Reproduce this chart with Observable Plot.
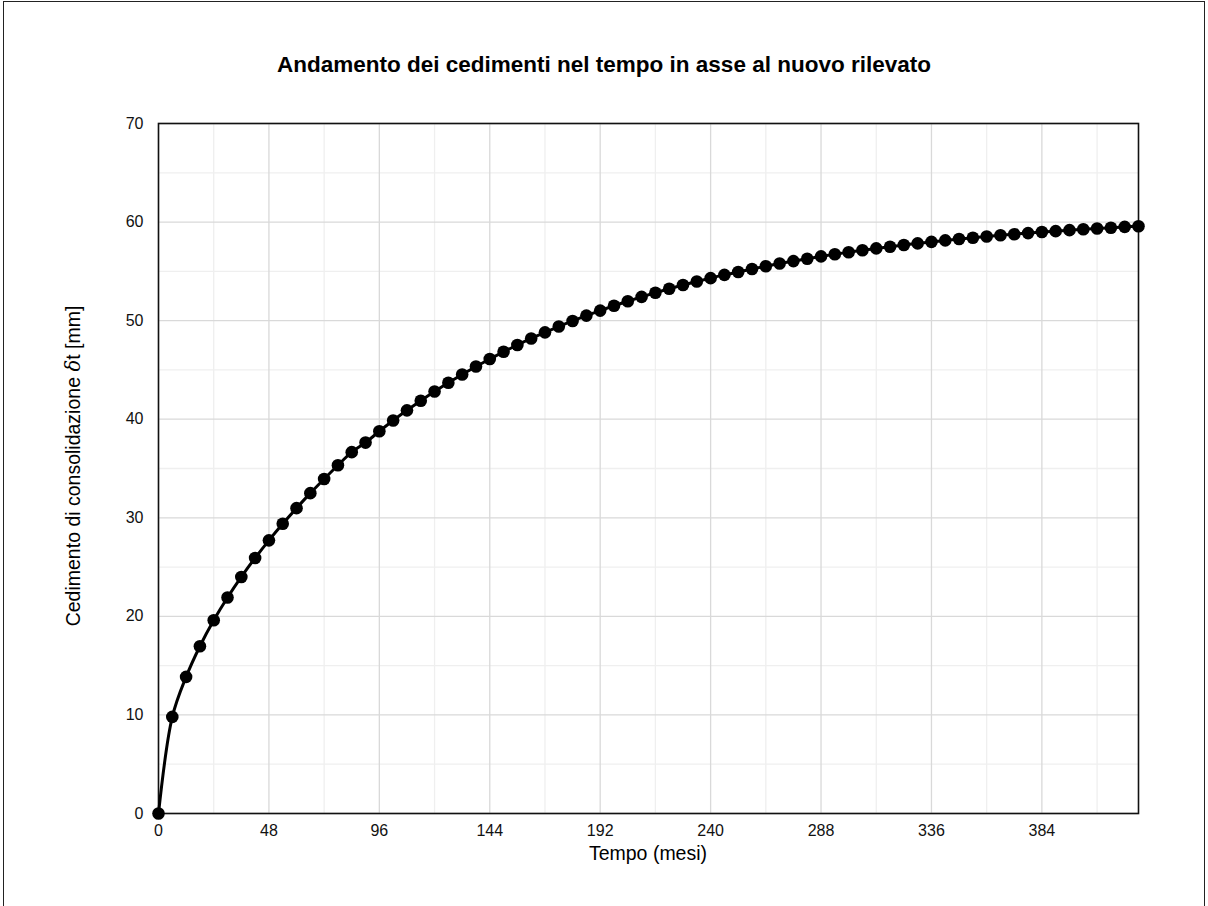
<!DOCTYPE html>
<html><head><meta charset="utf-8">
<script src="https://cdn.jsdelivr.net/npm/d3@7"></script>
<script src="https://cdn.jsdelivr.net/npm/@observablehq/plot@0.6"></script>
<style>
body{margin:0;background:#fff;font-family:"Liberation Sans",Arial,sans-serif;}
#wrap{position:relative;width:1208px;height:906px;overflow:hidden;background:#fff;}
#chart{position:absolute;left:0;top:0;}
#title{position:absolute;left:0;width:1208px;top:51px;text-align:center;font-weight:bold;font-size:22.5px;color:#000;line-height:28px;}
#border{position:absolute;left:3px;top:1px;width:1200px;height:940px;border:1.5px solid #222;pointer-events:none;}
</style></head>
<body>
<div id="wrap">
<div id="chart"></div>
<div id="title">Andamento dei cedimenti nel tempo in asse al nuovo rilevato</div>
<div id="border"></div>
</div>
<script>
const months = [0,6,12,18,24,30,36,42,48,54,60,66,72,78,84,90,96,102,108,114,120,126,132,138,144,150,156,162,168,174,180,186,192,198,204,210,216,222,228,234,240,246,252,258,264,270,276,282,288,294,300,306,312,318,324,330,336,342,348,354,360,366,372,378,384,390,396,402,408,414,420,426];
const settlement = [0,9.80,13.86,16.97,19.60,21.91,24.00,25.92,27.71,29.39,30.98,32.50,33.94,35.33,36.66,37.63,38.78,39.87,40.90,41.88,42.81,43.70,44.54,45.35,46.11,46.84,47.53,48.19,48.81,49.40,49.97,50.51,51.02,51.51,51.97,52.41,52.83,53.23,53.61,53.97,54.31,54.64,54.94,55.24,55.52,55.79,56.04,56.28,56.52,56.74,56.94,57.14,57.33,57.50,57.68,57.84,57.99,58.14,58.28,58.41,58.54,58.66,58.77,58.88,58.99,59.08,59.18,59.27,59.35,59.43,59.51,59.58];
const xTicks = [0,48,96,144,192,240,288,336,384];
const xMinor = [24,72,120,168,216,264,312,360,408];
const yTicks = [0,10,20,30,40,50,60,70];
const yMinor = [5,15,25,35,45,55,65];
const xDomain = [0,426];
const yDomain = [0,70];
const xLabel = "Tempo (mesi)";
const yLabelA = "Cedimento di consolidazione ";
const yLabelDelta = "δ";
const yLabelB = "t [mm]";

const data = months.map((m,i)=>({t:m, s:settlement[i]}));

const svgEl = Plot.plot({
  width: 1208, height: 906,
  marginLeft: 158, marginRight: 70, marginTop: 123, marginBottom: 93,
  style: {fontFamily: '"Liberation Sans", Arial, sans-serif', fontSize: "16px", color: "#000", background: "transparent"},
  x: {domain: xDomain, ticks: xTicks, tickSize: 0, tickPadding: 11, label: null, tickFormat: d=>String(d)},
  y: {domain: yDomain, ticks: yTicks, tickSize: 0, tickPadding: 15, label: null, tickFormat: d=>String(d)},
  marks: [
    Plot.ruleX(xMinor, {stroke: "#efefef", strokeWidth: 1.3}),
    Plot.ruleY(yMinor, {stroke: "#efefef", strokeWidth: 1.3}),
    Plot.ruleX(xTicks, {stroke: "#d9d9d9", strokeWidth: 1.3}),
    Plot.ruleY(yTicks, {stroke: "#d9d9d9", strokeWidth: 1.3}),
    Plot.frame({stroke: "#111", strokeWidth: 1.6}),
    Plot.line(data, {x: "t", y: "s", stroke: "#000", strokeWidth: 3, curve: "catmull-rom"}),
    Plot.dot(data, {x: "t", y: "s", r: 6.3, fill: "#000", stroke: "none"})
  ]
});
document.getElementById("chart").appendChild(svgEl);

const svg = d3.select(svgEl);
svg.selectAll("g[aria-label$='tick label']").attr("font-size", 16).style("font-size", "16px");
svg.selectAll("g[aria-label$='tick label'] text").style("font-size", "16px").style("fill", "#111");
svg.append("text")
  .attr("x", 648).attr("y", 860)
  .attr("text-anchor", "middle")
  .style("font-size", "19.5px").style("fill", "#000")
  .text(xLabel);
const yl = svg.append("text")
  .attr("transform", "translate(80,466) rotate(-90)")
  .attr("text-anchor", "middle")
  .style("font-size", "19.5px").style("fill", "#000");
yl.append("tspan").text(yLabelA);
yl.append("tspan").style("font-style", "italic").style("font-family", '"DejaVu Serif", serif').text(yLabelDelta);
yl.append("tspan").text(yLabelB);
</script>
</body></html>
